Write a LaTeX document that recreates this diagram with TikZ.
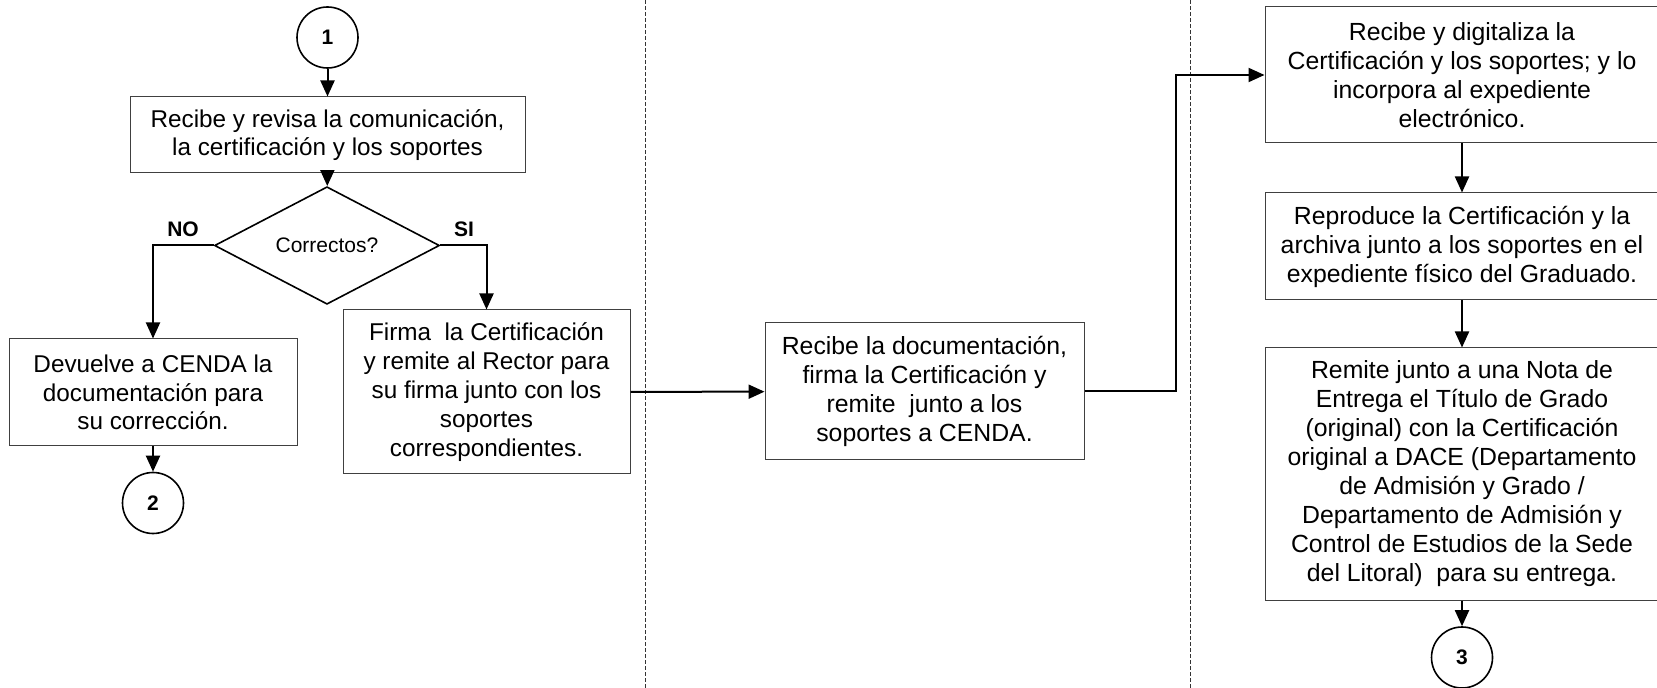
\documentclass[tikz,border=0pt]{standalone}
\usepackage{fontspec}
\setmainfont{Liberation Sans}
\usepackage{tikz}
\usetikzlibrary{positioning, arrows.meta, shapes.geometric}
\tikzset{
    paso/.style={rectangle, draw=black!75, line width=0.5pt, fill=white, align=center, inner sep=2pt, font=\fontsize{12.4}{14.5}\selectfont},
    pasoizq/.style={paso, font=\fontsize{12.15}{14.4}\selectfont},
    conector/.style={circle, draw=black, line width=0.8pt, minimum size=30.5pt, inner sep=0pt, font=\fontsize{10.5}{12}\selectfont\bfseries},
    decision/.style={diamond, draw=black, line width=0.8pt, minimum width=112.5pt, minimum height=36.5pt, inner sep=0pt, font=\fontsize{10.5}{12}\selectfont},
    rama/.style={font=\fontsize{10.5}{12}\selectfont\bfseries},
    arrow/.style={-{Triangle[length=8pt, width=7pt]}, line width=1pt},
    carril/.style={draw=black!80, line width=0.5pt, dash pattern=on 2pt off 1pt}
}

\begin{document}
\begin{tikzpicture}[x=0.5pt, y=-0.5pt]
        \useasboundingbox (0,0) rectangle (1657,688);

        % --- CARRILES ---
        \draw[carril] (645,0) -- (645,688);
        \draw[carril] (1190,0) -- (1190,688);

        % --- PRIMER CARRIL ---
        \node[conector] (C1) at (327.5,37.5) {1};
        \node[pasoizq, minimum width=197.5pt, minimum height=38pt] (Revisa) at (327.5,135)
            {Recibe y revisa la comunicación,\\la certificación y los soportes};
        \node[decision] (Ok) at (327,245.5) {Correctos?};
        \node[rama] (No) at (183,229) {NO};
        \node[rama] (Si) at (464,229) {SI};
        \node[pasoizq, minimum width=144pt, minimum height=53.5pt] (Devuelve) at (153,392.5)
            {Devuelve a CENDA la\\documentación para\\su corrección.};
        \node[conector] (C2) at (153,503) {2};
        \node[pasoizq, minimum width=143.5pt, minimum height=82pt] (Firma) at (486.5,392)
            {Firma\ \ la Certificación\\y remite al Rector para\\su firma junto con los\\soportes\\correspondientes.};

        \draw[arrow] (C1) -- (Revisa);
        \draw[arrow] (Revisa) -- (Ok);
        \draw[arrow] (Ok.west) -| (Devuelve);      % no
        \draw[arrow] (Ok.east) -| (Firma);         % si
        \draw[arrow] (Devuelve) -- (C2);

        % --- SEGUNDO CARRIL ---
        \node[paso, minimum width=159.5pt, minimum height=68.5pt] (Rector) at (924.5,391.5)
            {Recibe la documentación,\\firma la Certificación y\\remite\ \ junto a los\\soportes a CENDA.};
        \draw[arrow] (Firma) -- (Rector);

        % --- TERCER CARRIL ---
        \node[paso, minimum width=197pt, minimum height=68pt] (Digitaliza) at (1462,75)
            {Recibe y digitaliza la\\Certificación y los soportes; y lo\\incorpora al expediente\\electrónico.};
        \node[paso, minimum width=197pt, minimum height=53.5pt] (Archiva) at (1462,246.5)
            {Reproduce la Certificación y la\\archiva junto a los soportes en el\\expediente físico del Graduado.};
        \node[paso, minimum width=197pt, minimum height=126pt] (Remite) at (1462,474)
            {Remite junto a una Nota de\\Entrega el Título de Grado\\(original) con la Certificación\\original a DACE (Departamento\\de Admisión y Grado /\\Departamento de Admisión y\\Control de Estudios de la Sede\\del Litoral)\ \ para su entrega.};
        \node[conector] (C3) at (1462,657.5) {3};

        \draw[arrow] (Rector.east) -- ++(91,0) |- (Digitaliza.west);
        \draw[arrow] (Digitaliza) -- (Archiva);
        \draw[arrow] (Archiva) -- (Remite);
        \draw[arrow] (Remite) -- (C3);

    \end{tikzpicture}
\end{document}
